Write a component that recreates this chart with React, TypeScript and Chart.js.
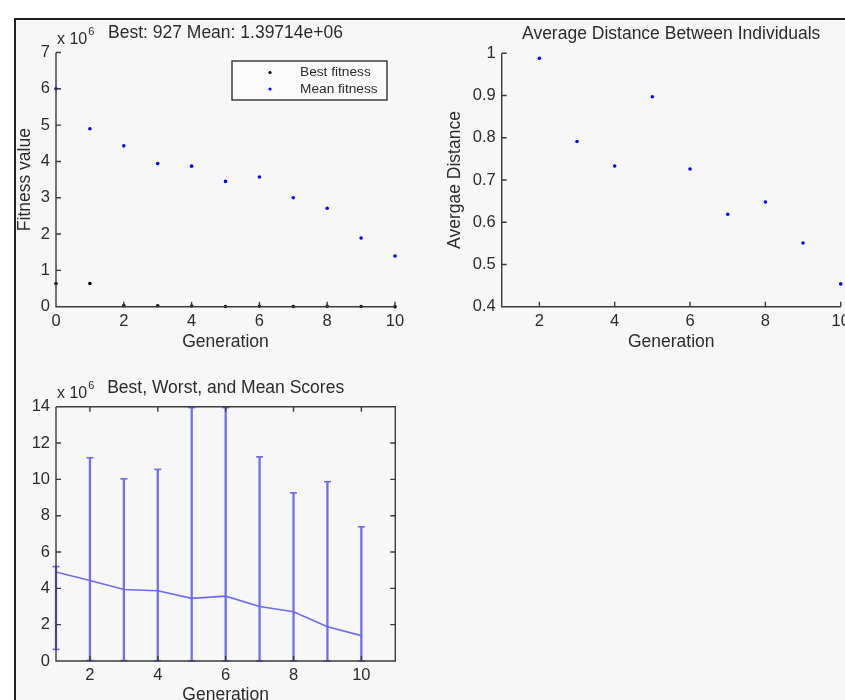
import React, { useEffect, useRef } from "react";
import { Chart, registerables } from "chart.js";

Chart.register(...registerables);

const FONT = "'Liberation Sans', Arial, Helvetica, sans-serif";
const TEXT = "#2b2b2b";
const AXIS = "#3a3a3a";
const BLUE = "#0000ff";
const BLACK = "#000000";
const ERR = "#6c6cf0";

// ---------- data ----------
const generations = [0, 1, 2, 3, 4, 5, 6, 7, 8, 9, 10];
const bestFitness = [640000, 640000, 30000, 25000, 20000, 6000, 12000, 4000, 12000, 4000, 927];
const meanFitness = [6000000, 4900000, 4430000, 3940000, 3870000, 3450000, 3570000, 3000000, 2710000, 1890000, 1397140];

const distanceGenerations = [2, 3, 4, 5, 6, 7, 8, 9, 10];
const averageDistance = [0.988, 0.791, 0.733, 0.897, 0.726, 0.619, 0.648, 0.551, 0.454];

const scoreGenerations = [1, 2, 3, 4, 5, 6, 7, 8, 9, 10];
const bestScores = [640000, 30000, 25000, 20000, 6000, 12000, 4000, 12000, 4000, 927];
const meanScores = [4900000, 4430000, 3940000, 3870000, 3450000, 3570000, 3000000, 2710000, 1890000, 1397140];
const worstScores = [5200000, 11190000, 10030000, 10550000, 13950000, 13950000, 11240000, 9260000, 9870000, 7390000];

const fitnessXTicks = [0, 2, 4, 6, 8, 10];
const fitnessYTicks = [0, 1e6, 2e6, 3e6, 4e6, 5e6, 6e6, 7e6];
const distanceXTicks = [2, 4, 6, 8, 10];
const distanceYTicks = [0.4, 0.5, 0.6, 0.7, 0.8, 0.9, 1];
const scoreXTicks = [2, 4, 6, 8, 10];
const scoreYTicks = [0, 2e6, 4e6, 6e6, 8e6, 10e6, 12e6, 14e6];

const fitnessTitle = "Best: 927 Mean: 1.39714e+06";
const distanceTitle = "Average Distance Between Individuals";
const scoreTitle = "Best, Worst, and Mean Scores";

// ---------- layout helpers ----------
type Box = { l: number; t: number; w: number; h: number };
type Area = { l: number; t: number; r: number; b: number };

const TICK_SIZE = 16.5;
const LABEL_SIZE = 17.5;
const LABEL_LH = LABEL_SIZE * 1.2;

function frame(c: Box, a: Area) {
  const padL = 4;
  const padB = 2;
  return {
    padding: { left: padL, right: c.l + c.w - a.r, top: a.t - c.t, bottom: padB },
    yW: a.l - c.l - padL,
    xH: c.t + c.h - a.b - padB,
    yTitlePad: (cx: number) => cx - c.l - padL - LABEL_LH / 2,
    xTitlePad: (cy: number) => c.h - padB - LABEL_LH / 2 - (cy - c.t),
  };
}

function xScale(min: number, max: number, ticks: number[], height: number, titlePad: number | null) {
  return {
    type: "linear",
    min,
    max,
    offset: false,
    afterBuildTicks: (s: any) => {
      s.ticks = ticks.map((v) => ({ value: v }));
    },
    afterFit: (s: any) => {
      s.height = height;
    },
    grid: { display: false, drawTicks: false, offset: false },
    border: { display: false },
    ticks: {
      padding: 5,
      color: TEXT,
      font: { family: FONT, size: TICK_SIZE },
      maxRotation: 0,
      autoSkip: false,
      callback: (v: any) => String(v),
    },
    title: {
      display: titlePad !== null,
      text: "Generation",
      color: TEXT,
      font: { family: FONT, size: LABEL_SIZE, lineHeight: 1.2 },
      padding: { top: 0, bottom: titlePad ?? 0 },
    },
  };
}

function yScale(
  min: number,
  max: number,
  ticks: number[],
  width: number,
  fmt: (v: number) => string,
  label: string | null,
  titlePad: number
) {
  return {
    type: "linear",
    min,
    max,
    afterBuildTicks: (s: any) => {
      s.ticks = ticks.map((v) => ({ value: v }));
    },
    afterFit: (s: any) => {
      s.width = width;
    },
    grid: { display: false, drawTicks: false },
    border: { display: false },
    ticks: {
      padding: 6,
      color: TEXT,
      font: { family: FONT, size: TICK_SIZE },
      autoSkip: false,
      callback: (v: any) => fmt(Number(v)),
    },
    title: {
      display: label !== null,
      text: label ?? "",
      color: TEXT,
      font: { family: FONT, size: LABEL_SIZE, lineHeight: 1.2 },
      padding: { top: titlePad, bottom: 0 },
    },
  };
}

// ---------- plugins ----------
const axesPlugin = {
  id: "matlabAxes",
  afterDatasetsDraw(chart: any, _args: any, opts: any) {
    const { ctx, chartArea: ca, scales } = chart;
    const x = scales.x;
    const y = scales.y;
    const tl = 5;
    ctx.save();
    ctx.strokeStyle = AXIS;
    ctx.lineWidth = 1.4;
    ctx.beginPath();
    ctx.moveTo(ca.left, ca.top);
    ctx.lineTo(ca.left, ca.bottom);
    ctx.lineTo(ca.right, ca.bottom);
    if (opts.box) {
      ctx.lineTo(ca.right, ca.top);
      ctx.lineTo(ca.left, ca.top);
    }
    for (const t of x.ticks) {
      const px = x.getPixelForValue(t.value);
      ctx.moveTo(px, ca.bottom);
      ctx.lineTo(px, ca.bottom - tl);
      if (opts.box) {
        ctx.moveTo(px, ca.top);
        ctx.lineTo(px, ca.top + tl);
      }
    }
    for (const t of y.ticks) {
      const py = y.getPixelForValue(t.value);
      ctx.moveTo(ca.left, py);
      ctx.lineTo(ca.left + tl, py);
      if (opts.box) {
        ctx.moveTo(ca.right, py);
        ctx.lineTo(ca.right - tl, py);
      }
    }
    ctx.stroke();
    ctx.restore();
  },
};

const annotPlugin = {
  id: "annot",
  afterDraw(chart: any, _args: any, opts: any) {
    const { ctx, chartArea: ca } = chart;
    ctx.save();
    ctx.fillStyle = TEXT;
    if (opts.title) {
      ctx.font = `${LABEL_SIZE}px ${FONT}`;
      ctx.textAlign = "center";
      ctx.textBaseline = "middle";
      ctx.fillText(opts.title, (ca.left + ca.right) / 2, ca.top - 19);
    }
    if (opts.exponent) {
      ctx.font = `16px ${FONT}`;
      ctx.textAlign = "left";
      ctx.textBaseline = "middle";
      const base = "x 10";
      ctx.fillText(base, ca.left + 1, ca.top - 13);
      const w = ctx.measureText(base).width;
      ctx.font = `11px ${FONT}`;
      ctx.fillText("6", ca.left + 2 + w, ca.top - 21);
    }
    if (opts.legend) {
      const bw = 155;
      const bh = 39;
      const bl = ca.right - 8 - bw;
      const bt = ca.top + 8.5;
      ctx.fillStyle = "#fafafa";
      ctx.fillRect(bl, bt, bw, bh);
      ctx.strokeStyle = "#222";
      ctx.lineWidth = 1.3;
      ctx.strokeRect(bl, bt, bw, bh);
      ctx.font = `13.7px ${FONT}`;
      ctx.textAlign = "left";
      ctx.textBaseline = "middle";
      chart.data.datasets.forEach((ds: any, i: number) => {
        const cy = bt + 11.5 + i * 16.5;
        ctx.fillStyle = ds.backgroundColor;
        ctx.beginPath();
        ctx.arc(bl + 38, cy, 1.6, 0, Math.PI * 2);
        ctx.fill();
        ctx.fillStyle = TEXT;
        ctx.fillText(ds.label, bl + 68, cy);
      });
    }
    ctx.restore();
  },
};

const millions = (v: number) => String(Math.round(v / 1e5) / 10);

// ---------- chart configs ----------
const box1: Box = { l: 16, t: 20, w: 404, h: 340 };
const area1: Area = { l: 56, t: 52.5, r: 395, b: 306.7 };
const box2: Box = { l: 420, t: 20, w: 480, h: 340 };
const area2: Area = { l: 501.7, t: 53.3, r: 840.7, b: 306.7 };
const box3: Box = { l: 16, t: 360, w: 404, h: 360 };
const area3: Area = { l: 56, t: 406.7, r: 395.3, b: 661 };

function fitnessConfig(): any {
  const f = frame(box1, area1);
  return {
    type: "scatter",
    data: {
      datasets: [
        {
          label: "Best fitness",
          data: generations.map((g, i) => ({ x: g, y: bestFitness[i] })),
          backgroundColor: BLACK,
          borderColor: BLACK,
          pointRadius: 1.8,
          pointBorderWidth: 0,
          clip: false,
        },
        {
          label: "Mean fitness",
          data: generations.map((g, i) => ({ x: g, y: meanFitness[i] })),
          backgroundColor: BLUE,
          borderColor: BLUE,
          pointRadius: 1.8,
          pointBorderWidth: 0,
          clip: false,
        },
      ],
    },
    options: {
      animation: false,
      responsive: false,
      maintainAspectRatio: false,
      layout: { padding: f.padding },
      plugins: {
        legend: { display: false },
        tooltip: { enabled: false },
        matlabAxes: { box: false },
        annot: { title: fitnessTitle, exponent: true, legend: true },
      },
      scales: {
        x: xScale(0, 10, fitnessXTicks, f.xH, f.xTitlePad(342)),
        y: yScale(0, 7e6, fitnessYTicks, f.yW, millions, "Fitness value", f.yTitlePad(25)),
      },
    },
    plugins: [axesPlugin, annotPlugin],
  };
}

function distanceConfig(): any {
  const f = frame(box2, area2);
  return {
    type: "scatter",
    data: {
      datasets: [
        {
          label: "Average distance",
          data: distanceGenerations.map((g, i) => ({ x: g, y: averageDistance[i] })),
          backgroundColor: BLUE,
          borderColor: BLUE,
          pointRadius: 1.8,
          pointBorderWidth: 0,
          clip: false,
        },
      ],
    },
    options: {
      animation: false,
      responsive: false,
      maintainAspectRatio: false,
      layout: { padding: f.padding },
      plugins: {
        legend: { display: false },
        tooltip: { enabled: false },
        matlabAxes: { box: false },
        annot: { title: distanceTitle, exponent: false, legend: false },
      },
      scales: {
        x: xScale(1, 10, distanceXTicks, f.xH, f.xTitlePad(342)),
        y: yScale(
          0.4,
          1,
          distanceYTicks,
          f.yW,
          (v) => (Math.abs(v - 1) < 1e-9 ? "1" : v.toFixed(1)),
          "Avergae Distance",
          f.yTitlePad(455)
        ),
      },
    },
    plugins: [axesPlugin, annotPlugin],
  };
}

function scoresConfig(): any {
  const f = frame(box3, area3);
  return {
    type: "bar",
    data: {
      datasets: [
        {
          type: "bar",
          label: "Range",
          data: scoreGenerations.map((g, i) => ({ x: g, y: [bestScores[i], worstScores[i]] })),
          backgroundColor: ERR,
          borderWidth: 0,
          barThickness: 1.6,
          clip: false,
          order: 3,
        },
        {
          type: "line",
          label: "Caps",
          data: [
            ...scoreGenerations.map((g, i) => ({ x: g, y: worstScores[i] })),
            ...scoreGenerations.map((g, i) => ({ x: g, y: bestScores[i] })),
          ],
          showLine: false,
          pointStyle: "line",
          pointRadius: 3.5,
          pointBorderWidth: 1.6,
          borderColor: ERR,
          backgroundColor: ERR,
          clip: false,
          order: 2,
        },
        {
          type: "line",
          label: "Mean",
          data: scoreGenerations.map((g, i) => ({ x: g, y: meanScores[i] })),
          borderColor: ERR,
          borderWidth: 1.6,
          pointRadius: 0,
          tension: 0,
          clip: false,
          order: 1,
        },
      ],
    },
    options: {
      animation: false,
      responsive: false,
      maintainAspectRatio: false,
      layout: { padding: f.padding },
      plugins: {
        legend: { display: false },
        tooltip: { enabled: false },
        matlabAxes: { box: true },
        annot: { title: scoreTitle, exponent: true, legend: false },
      },
      scales: {
        x: xScale(1, 11, scoreXTicks, f.xH, f.xTitlePad(695)),
        y: yScale(0, 14e6, scoreYTicks, f.yW, millions, null, 0),
      },
    },
    plugins: [axesPlugin, annotPlugin],
  };
}

function canvasStyle(b: Box): React.CSSProperties {
  return { position: "absolute", left: b.l, top: b.t, width: b.w, height: b.h };
}

export default function App() {
  const r1 = useRef<HTMLCanvasElement>(null);
  const r2 = useRef<HTMLCanvasElement>(null);
  const r3 = useRef<HTMLCanvasElement>(null);

  useEffect(() => {
    const charts = [
      new Chart(r1.current as HTMLCanvasElement, fitnessConfig()),
      new Chart(r2.current as HTMLCanvasElement, distanceConfig()),
      new Chart(r3.current as HTMLCanvasElement, scoresConfig()),
    ];
    return () => charts.forEach((c) => c.destroy());
  }, []);

  return (
    <div
      style={{
        position: "absolute",
        left: 0,
        top: 0,
        width: 845,
        height: 700,
        overflow: "hidden",
        background: "#ffffff",
      }}
    >
      <div
        style={{
          position: "absolute",
          left: 14,
          top: 18,
          width: 900,
          height: 800,
          borderLeft: "2px solid #1f1f1f",
          borderTop: "2px solid #1f1f1f",
          background: "#f7f7f7",
        }}
      />
      <canvas ref={r1} width={box1.w} height={box1.h} style={canvasStyle(box1)} />
      <canvas ref={r2} width={box2.w} height={box2.h} style={canvasStyle(box2)} />
      <canvas ref={r3} width={box3.w} height={box3.h} style={canvasStyle(box3)} />
    </div>
  );
}
